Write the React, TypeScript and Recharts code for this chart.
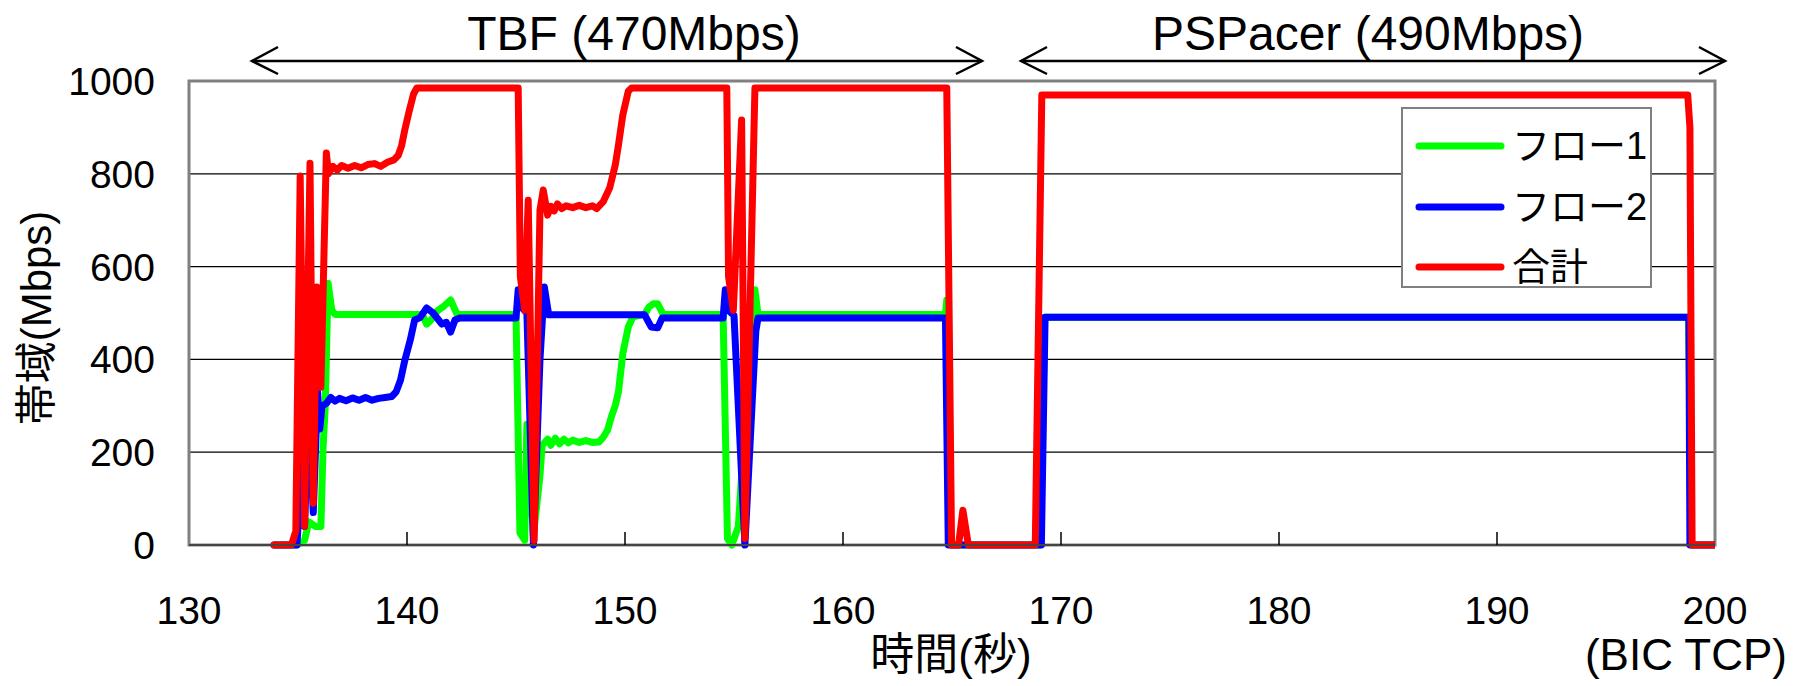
import React from 'react'
import { LineChart, Line, XAxis, YAxis, CartesianGrid, ReferenceArea, Legend } from 'recharts'

// time (s) / bandwidth (Mbps)
const flow1Points: [number, number][] = [
  [133.9, 0], [134.95, 0], [135.3, 10], [135.5, 50], [135.8, 40], [136.05, 40], [136.15, 210],
  [136.25, 300], [136.38, 564], [136.55, 506], [136.7, 497], [140.7, 497], [140.9, 476],
  [141.1, 485], [141.4, 505], [141.7, 515], [142.0, 528], [142.3, 497], [145.0, 497],
  [145.18, 26], [145.4, 10], [145.5, 260], [145.8, 20], [146.1, 150], [146.2, 215],
  [146.3, 220], [146.45, 228], [146.6, 215], [146.8, 230], [147.0, 218], [147.2, 228],
  [147.4, 220], [147.6, 226], [147.9, 221], [148.2, 225], [148.5, 221], [148.8, 222],
  [149.0, 232], [149.2, 248], [149.4, 280], [149.55, 300], [149.7, 330], [149.9, 413],
  [150.15, 470], [150.37, 492], [150.9, 497], [151.1, 513], [151.3, 520], [151.5, 520],
  [151.75, 497], [154.5, 497], [154.7, 14], [154.9, 0], [155.2, 40], [155.5, 260],
  [155.96, 550], [156.1, 497], [164.7, 497], [164.76, 528], [164.95, 0], [169.05, 0],
  [169.25, 491], [198.8, 491], [198.9, 0], [200, 0],
]

const flow2Points: [number, number][] = [
  [133.9, 0], [134.95, 0], [135.2, 200], [135.3, 40], [135.5, 300], [135.7, 70], [135.9, 330],
  [136.0, 250], [136.1, 300], [136.3, 305], [136.5, 318], [136.7, 310], [136.9, 316],
  [137.2, 311], [137.5, 317], [137.8, 312], [138.1, 318], [138.4, 312], [138.7, 316],
  [139.0, 318], [139.3, 320], [139.5, 330], [139.7, 355], [139.9, 398], [140.15, 442],
  [140.35, 485], [140.6, 490], [140.9, 511], [141.2, 500], [141.6, 476], [141.8, 480],
  [142.0, 459], [142.2, 485], [142.4, 489], [145.0, 489], [145.1, 550], [145.3, 510],
  [145.5, 500], [145.8, 0], [146.1, 400], [146.3, 556], [146.5, 496], [150.9, 496],
  [151.2, 470], [151.5, 468], [151.7, 489], [154.5, 489], [154.6, 550], [154.75, 505],
  [155.0, 495], [155.5, 0], [156.0, 460], [156.1, 489], [164.7, 489], [164.83, 0],
  [169.1, 0], [169.27, 491], [198.8, 491], [198.85, 0], [200, 0],
]

const totalPoints: [number, number][] = [
  [133.9, 0], [134.7, 0], [134.9, 30], [135.1, 795], [135.3, 40], [135.55, 823], [135.7, 90],
  [135.86, 556], [136.05, 340], [136.3, 845], [136.4, 800], [136.6, 816], [136.8, 808],
  [137.0, 818], [137.3, 812], [137.6, 818], [137.9, 813], [138.2, 820], [138.5, 822],
  [138.8, 816], [139.1, 825], [139.4, 830], [139.6, 840], [139.75, 860], [139.9, 895],
  [140.1, 935], [140.3, 972], [140.45, 985], [145.1, 985], [145.2, 578], [145.4, 506],
  [145.56, 743], [145.83, 10], [146.1, 722], [146.25, 765], [146.45, 711], [146.6, 730],
  [146.75, 720], [146.9, 735], [147.1, 725], [147.3, 731], [147.6, 727], [147.9, 732],
  [148.2, 727], [148.5, 731], [148.7, 725], [149.0, 740], [149.3, 770], [149.55, 818],
  [149.7, 862], [149.9, 927], [150.15, 978], [150.3, 985], [154.67, 985], [154.75, 578],
  [154.97, 506], [155.35, 916], [155.5, 14], [155.96, 985], [164.76, 985], [164.98, 0],
  [165.3, 0], [165.5, 75], [165.75, 0], [168.82, 0], [169.12, 970], [198.75, 970],
  [198.85, 900], [198.95, 0], [200, 0],
]

const xTicks = [130, 140, 150, 160, 170, 180, 190, 200]
const yTicks = [0, 200, 400, 600, 800, 1000]

const seriesNames = ['フロー1', 'フロー2', '合計']
const seriesColors = ['#00ff00', '#0000ff', '#ff0000']

const toRows = (pts: [number, number][]) => pts.map(([t, v]) => ({ t, v }))

const FONT = "'Liberation Sans', Arial, 'Noto Sans CJK JP', sans-serif"

const XTick = (props: any) => {
  const { x, y, payload } = props
  const edge = payload.value === 130 || payload.value === 200
  return (
    <g>
      {!edge ? <line x1={x} x2={x} y1={y} y2={y - 13} stroke="#000" strokeWidth={1.5} /> : null}
      <text x={x} y={y + 79} textAnchor="middle" fontSize={39} fontFamily={FONT} fill="#000">
        {payload.value}
      </text>
    </g>
  )
}

const YTick = (props: any) => {
  const { x, y, payload } = props
  return (
    <text x={x - 34} y={y} dy={14} textAnchor="end" fontSize={39} fontFamily={FONT} fill="#000">
      {payload.value}
    </text>
  )
}

const LegendBox = () => (
  <div
    style={{
      position: 'relative',
      width: 251,
      height: 181,
      boxSizing: 'border-box',
      border: '2px solid #808080',
      background: '#fff',
    }}
  >
    {seriesNames.map((name, i) => (
      <div key={name} style={{ position: 'absolute', left: 12, top: 9 + i * 60.5, height: 56, display: 'flex', alignItems: 'center' }}>
        <svg width={90} height={12} style={{ display: 'block' }}>
          <line x1={4} x2={86} y1={6} y2={6} stroke={seriesColors[i]} strokeWidth={7} strokeLinecap="round" />
        </svg>
        <span style={{ marginLeft: 7, fontSize: 38, fontFamily: FONT, color: '#000', lineHeight: '56px' }}>{name}</span>
      </div>
    ))}
  </div>
)

const Arrow = ({ x1, x2, y }: { x1: number; x2: number; y: number }) => (
  <g stroke="#000" strokeWidth={2.5} fill="none">
    <line x1={x1} x2={x2} y1={y} y2={y} />
    <polyline points={`${x1 + 26},${y - 14} ${x1},${y} ${x1 + 26},${y + 13}`} />
    <polyline points={`${x2 - 26},${y - 14} ${x2},${y} ${x2 - 26},${y + 13}`} />
  </g>
)

export default function App() {
  const data = [flow1Points, flow2Points, totalPoints].map(toRows)
  return (
    <div style={{ position: 'absolute', left: 0, top: 0, width: 1796, height: 686, background: '#fff' }}>
      <LineChart width={1796} height={686} margin={{ top: 81, right: 81, bottom: 0, left: 69 }}>
        <CartesianGrid vertical={false} stroke="#000" strokeWidth={1.2} />
        <ReferenceArea x1={130} x2={200} y1={0} y2={1000} fill="none" stroke="#808080" strokeWidth={3} ifOverflow="visible" />
        <XAxis
          type="number"
          dataKey="t"
          domain={[130, 200]}
          ticks={xTicks}
          allowDataOverflow
          height={141}
          tickSize={0}
          tickMargin={0}
          tick={<XTick />}
          axisLine={{ stroke: '#444', strokeWidth: 2 }}
          tickLine={false}
        />
        <YAxis
          type="number"
          domain={[0, 1000]}
          ticks={yTicks}
          width={120}
          tickSize={0}
          tickMargin={0}
          tick={<YTick />}
          axisLine={false}
          tickLine={false}
        />
        <Legend
          layout="horizontal"
          verticalAlign="middle"
          align="center"
          content={() => <LegendBox />}
          wrapperStyle={{ position: 'absolute', left: 1401, top: 107, width: 251, height: 181 }}
        />
        {data.map((rows, i) => (
          <Line
            key={seriesNames[i]}
            data={rows}
            dataKey="v"
            name={seriesNames[i]}
            type="linear"
            stroke={seriesColors[i]}
            strokeWidth={7}
            strokeLinejoin="round"
            strokeLinecap="round"
            dot={false}
            activeDot={false}
            isAnimationActive={false}
          />
        ))}
      </LineChart>
      <svg width={1796} height={686} style={{ position: 'absolute', left: 0, top: 0, pointerEvents: 'none' }}>
        <text x={634} y={50} textAnchor="middle" fontSize={48} fontFamily={FONT} fill="#000">TBF (470Mbps)</text>
        <text x={1368} y={50} textAnchor="middle" fontSize={48} fontFamily={FONT} fill="#000">PSPacer (490Mbps)</text>
        <Arrow x1={252} x2={982} y={61} />
        <Arrow x1={1021} x2={1725} y={61} />
        <text x={951} y={670} textAnchor="middle" fontSize={44} fontFamily={FONT} fill="#000">時間(秒)</text>
        <text x={1787} y={670} textAnchor="end" fontSize={44} fontFamily={FONT} fill="#000">(BIC TCP)</text>
        <text
          x={36}
          y={318}
          textAnchor="middle"
          dominantBaseline="central"
          fontSize={42}
          fontFamily={FONT}
          fill="#000"
          transform="rotate(-90 36 318)"
        >
          帯域(Mbps)
        </text>
      </svg>
    </div>
  )
}
